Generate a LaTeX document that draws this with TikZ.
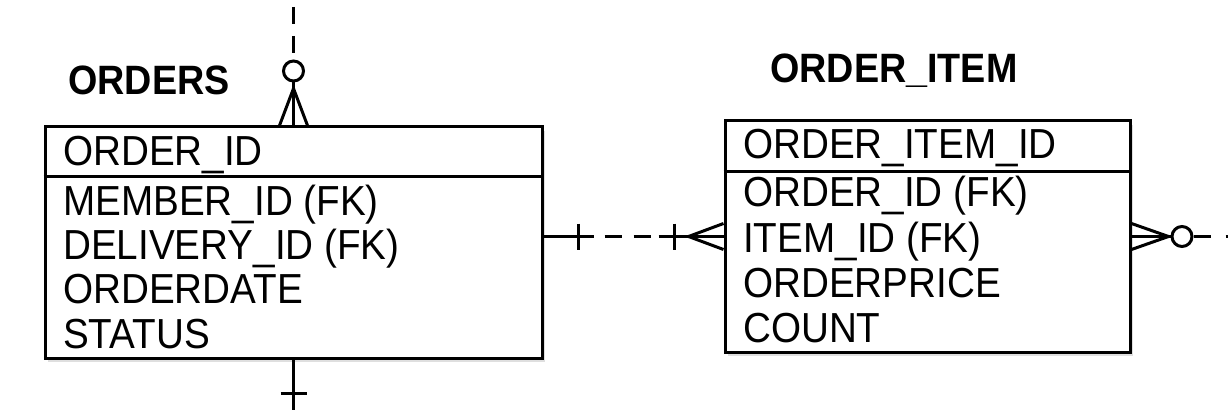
\documentclass[tikz,border=0pt]{standalone}
\usepackage{fontspec}
\setmainfont{Liberation Sans}[FakeStretch=0.92]
\usetikzlibrary{shadows,positioning,calc}

\begin{document}
\begin{tikzpicture}[x=1pt,y=-1pt]\fontsize{42}{44}\selectfont
\tikzstyle{entity} = [rectangle, draw=black, line width=3pt, fill=white, minimum height=231pt, drop shadow={shadow xshift=3pt, shadow yshift=-4pt, opacity=0.25}]
\tikzstyle{title} = [anchor=base west, inner sep=0pt, font=\bfseries\fontsize{41}{41}\selectfont]
\tikzstyle{attr} = [anchor=base west, inner sep=0pt]
\tikzstyle{sepline} = [draw, line width=2.5pt]
\tikzstyle{erline} = [draw, line width=3pt]
\tikzstyle{erdash} = [dash pattern=on 17pt off 12pt]
\tikzstyle{optcircle} = [circle, draw=black, line width=3pt, fill=white, minimum size=20pt, inner sep=0pt]

\useasboundingbox (0,0) rectangle (1228,414);

	% entities
	\node [entity, minimum width=497pt] (orders) at (293.5,242.5) {};
	\node [entity, minimum width=405pt] (item) at (927.5,236.5) {};
	\node [title] (orders-title) at (68,95) {ORDERS};
	\node [title] (item-title) at (770,83) {ORDER\_ITEM};

	% key rows
	\path [sepline] ([yshift=-51pt]orders.north west) -- ([yshift=-51pt]orders.north east);
	\path [sepline] ([yshift=-52pt]item.north west) -- ([yshift=-52pt]item.north east);
	\node [attr] (orders-pk) at (63,166) {ORDER\_ID};
	\node [attr] (item-pk) at (743,159) {ORDER\_ITEM\_ID};

	% attribute rows
	\foreach \a [count=\i] in {MEMBER\_ID (FK), DELIVERY\_ID (FK), ORDERDATE, STATUS}
		\node [attr] (orders-a\i) at (63,{171+44.3*\i}) {\a};
	\foreach \a [count=\i] in {ORDER\_ID (FK), ITEM\_ID (FK), ORDERPRICE, COUNT}
		\node [attr] (item-a\i) at (743,{162+45*\i}) {\a};

	% orders top: zero or many
	\path [erline] (orders.north) -- ++(0,-43) coordinate (ot-c);
	\path [erline] ([xshift=-14pt]orders.north) -- ($(orders.north)+(0,-37)$) -- ([xshift=14pt]orders.north);
	\node [optcircle, above=0pt of ot-c] (ot-o) {};
	\coordinate (ot-end) at (ot-o.north |- 0,0);
	\path [erline, erdash, dash phase=22pt] (ot-end) -- (ot-o.north);

	% orders bottom: exactly one
	\path [erline] (orders.south) -- ++(0,50) coordinate (ob-end);
	\path [erline] ($(orders.south)+(-13,34)$) -- ++(26,0);

	% orders -- order_item
	\coordinate (oe) at (orders.east |- item.west);
	\coordinate (iw-d) at ($(item.west)+(-65,0)$);
	\path [erline] (oe) -- ++(50,0) coordinate (oe-d);
	\path [erline] ($(oe)+(35,-13)$) -- ++(0,26);
	\path [erline, erdash, dash phase=18pt] (oe-d) -- (iw-d);
	\path [erline] (iw-d) -- (item.west);
	\path [erline] ($(item.west)+(-49,-13)$) -- ++(0,26);
	\path [erline] ($(item.west)+(0,-13)$) -- ($(item.west)+(-35,0)$) -- ($(item.west)+(0,13)$);

	% order_item right: zero or many
	\path [erline] ($(item.east)+(0,-13)$) -- ($(item.east)+(37,0)$) -- ($(item.east)+(0,13)$);
	\path [erline] (item.east) -- ++(39,0) coordinate (ie-c);
	\node [optcircle, right=0pt of ie-c] (ie-o) {};
	\coordinate (ie-end) at ($(ie-o.east)+(40,0)$);
	\path [erline, dash pattern=on 17pt off 15pt] (ie-o.east) -- (ie-end);
\end{tikzpicture}
\end{document}
